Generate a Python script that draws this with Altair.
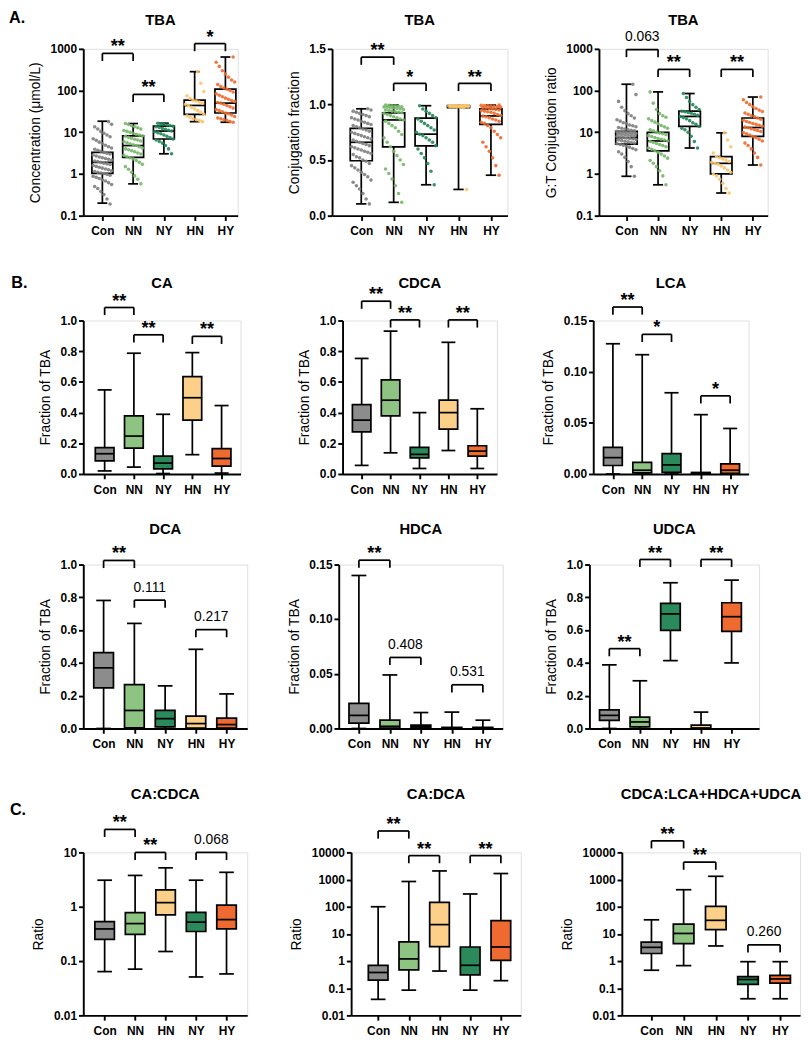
import altair as alt
import pandas as pd

FONT = "Liberation Sans"

GROUPS_AB = ["Con", "NN", "NY", "HN", "HY"]
GROUPS_C = ["Con", "NN", "HN", "NY", "HY"]
COLOR_KEYS = ["Con", "NN", "NY", "HN", "HY"]
BOX_COLORS = ["#8c8c8c", "#8ec482", "#2a8a5c", "#fdd08a", "#ee6a30"]
POINT_COLORS = ["#7e7e7e", "#76b768", "#23875a", "#fcc469", "#ee6a2c"]

# ---- box statistics: [min, q1, median, q3, max] per group (panel order) ----
TBA_CONC_BOX = [[0.2, 1.04, 1.9, 3.3, 18.4], [0.58, 2.5, 4.8, 8.2, 16.2], [3.05, 6.9, 10.7, 14.0, 16.5],
                [18.0, 27.0, 44.0, 59.0, 284.0], [17.4, 29.0, 50.0, 108.0, 638.0]]
TBA_FRAC_BOX = [[0.106, 0.494, 0.66, 0.786, 0.961], [0.12, 0.619, 0.861, 0.925, 0.994], [0.278, 0.628, 0.733, 0.878, 0.989],
                [0.236, 0.972, 0.985, 0.989, 0.989], [0.364, 0.822, 0.897, 0.961, 0.994]]
TBA_GT_BOX = [[0.88, 5.2, 7.4, 10.5, 142.0], [0.55, 3.6, 6.2, 10.0, 93.0], [4.2, 13.8, 24.0, 32.0, 85.0],
              [0.35, 1.0, 1.8, 2.6, 9.7], [1.64, 8.0, 13.0, 22.0, 70.0]]
CA_BOX = [[0.02, 0.085, 0.132, 0.172, 0.548], [0.045, 0.168, 0.247, 0.379, 0.787], [0.003, 0.034, 0.071, 0.116, 0.389],
          [0.126, 0.351, 0.497, 0.635, 0.791], [0.006, 0.051, 0.101, 0.166, 0.446]]
CDCA_BOX = [[0.056, 0.274, 0.351, 0.452, 0.753], [0.138, 0.379, 0.481, 0.613, 0.931], [0.036, 0.105, 0.128, 0.174, 0.4],
            [0.153, 0.293, 0.4, 0.481, 0.858], [0.036, 0.117, 0.149, 0.184, 0.425]]
LCA_BOX = [[0.0, 0.0083, 0.016, 0.026, 0.1273], [0.0, 0.0012, 0.0037, 0.0113, 0.1166], [0.0, 0.0015, 0.0089, 0.02, 0.0794],
           [0.0, 0.0, 0.0005, 0.0015, 0.058], [0.0, 0.0006, 0.0037, 0.0098, 0.0445]]
DCA_BOX = [[0.0, 0.248, 0.37, 0.463, 0.781], [0.0, 0.004, 0.11, 0.267, 0.641], [0.0, 0.01, 0.06, 0.11, 0.26],
           [0.0, 0.003, 0.03, 0.075, 0.483], [0.0, 0.003, 0.024, 0.063, 0.211]]
HDCA_BOX = [[0.0, 0.005, 0.012, 0.023, 0.14], [0.0, 0.0003, 0.002, 0.0076, 0.049], [0.0, 0.0003, 0.0015, 0.003, 0.0146],
            [0.0, 0.0, 0.0003, 0.001, 0.015], [0.0, 0.0, 0.0003, 0.001, 0.0076]]
UDCA_BOX = [[0.0, 0.05, 0.08, 0.114, 0.388], [0.0, 0.01, 0.04, 0.07, 0.291], [0.414, 0.598, 0.699, 0.763, 0.889],
            [0.0, 0.0, 0.003, 0.02, 0.1], [0.4, 0.592, 0.682, 0.767, 0.905]]
CA_CDCA_BOX = [[0.064, 0.25, 0.39, 0.53, 3.08], [0.071, 0.31, 0.49, 0.78, 3.77], [0.15, 0.71, 1.19, 2.05, 5.2],
               [0.051, 0.35, 0.52, 0.79, 3.08], [0.058, 0.39, 0.58, 1.07, 4.3]]
CA_DCA_BOX = [[0.039, 0.2, 0.38, 0.7, 100.0], [0.085, 0.47, 1.2, 5.1, 850.0], [0.43, 3.4, 22.0, 146.0, 2080.0],
              [0.085, 0.31, 0.7, 3.3, 295.0], [0.19, 1.06, 3.3, 31.0, 1670.0]]
CDCA_SEC_BOX = [[0.46, 1.9, 3.2, 5.0, 33.0], [0.68, 4.4, 10.4, 23.0, 423.0], [3.6, 14.5, 31.6, 104.0, 1320.0],
                [0.041, 0.14, 0.21, 0.27, 0.95], [0.041, 0.155, 0.22, 0.3, 0.95]]

# ---- significance brackets: (group a, group b, bracket level, label) ----
TBA_CONC_SIG = [("Con", "NN", 780, "**"), ("NN", "NY", 81, "**"), ("HN", "HY", 1340, "*")]
TBA_FRAC_SIG = [("Con", "NN", 1.425, "**"), ("NN", "NY", 1.189, "*"), ("HN", "HY", 1.189, "**")]
TBA_GT_SIG = [("Con", "NN", 965, "0.063"), ("NN", "NY", 322, "**"), ("HN", "HY", 322, "**")]
CA_SIG = [("Con", "NN", 1.085, "**"), ("NN", "NY", 0.907, "**"), ("HN", "HY", 0.897, "**")]
CDCA_SIG = [("Con", "NN", 1.126, "**"), ("NN", "NY", 1.004, "**"), ("HN", "HY", 1.004, "**")]
LCA_SIG = [("Con", "NN", 0.1632, "**"), ("NN", "NY", 0.1365, "*"), ("HN", "HY", 0.0764, "*")]
DCA_SIG = [("Con", "NN", 1.025, "**"), ("NN", "NY", 0.783, "0.111"), ("HN", "HY", 0.603, "0.217")]
HDCA_SIG = [("Con", "NN", 0.154, "**"), ("NN", "NY", 0.065, "0.408"), ("HN", "HY", 0.04, "0.531")]
UDCA_SIG = [("Con", "NN", 0.487, "**"), ("NN", "NY", 1.031, "**"), ("HN", "HY", 1.031, "**")]
CA_CDCA_SIG = [("Con", "NN", 26.5, "**"), ("NN", "HN", 10, "**"), ("NY", "HY", 10, "0.068")]
CA_DCA_SIG = [("Con", "NN", 61400, "**"), ("NN", "HN", 7620, "**"), ("NY", "HY", 7620, "**")]
CDCA_SEC_SIG = [("Con", "NN", 26800, "**"), ("NN", "HN", 4370, "**"), ("NY", "HY", 3.98, "0.260")]

# ---- individual points for the TBA panels ----
TBA_CONC_PTS = {
    "Con": [0.19, 0.25, 0.32, 0.38, 0.45, 0.5, 0.56, 0.62, 0.68, 0.72, 0.78, 0.83, 0.88, 0.93, 0.98, 1.02,
            1.06, 1.1, 1.15, 1.2, 1.26, 1.32, 1.38, 1.45, 1.52, 1.6, 1.68, 1.75, 1.82, 1.9,
            1.98, 2.05, 2.15, 2.25, 2.35, 2.45, 2.55, 2.7, 2.85, 3.0, 3.15, 3.3,
            3.5, 3.7, 3.9, 4.2, 4.5, 4.9, 5.3, 5.8, 6.4, 7.0, 7.8, 8.6, 9.5, 10.5, 12, 13.5, 15.5, 18],
    "NN": [0.58, 0.75, 0.9, 1.1, 1.3, 1.5, 1.7, 1.9, 2.1, 2.3, 2.45,
           2.6, 2.8, 3.0, 3.2, 3.4, 3.6, 3.8, 4.0, 4.2, 4.5, 4.8,
           5.0, 5.3, 5.6, 5.9, 6.2, 6.5, 6.8, 7.2, 7.6, 8.0, 8.2,
           8.6, 9.0, 9.5, 10, 10.5, 11, 12, 12.8, 13.5, 14.5, 15.3, 16.2],
    "NY": [3.05, 4.0, 4.8, 5.5, 6.0, 6.5, 6.9, 7.5, 8.0, 8.6, 9.2, 9.8, 10.3, 10.7, 11.2, 11.8, 12.4, 13.0,
           13.6, 14.0, 14.6, 15.0, 15.6, 16.0, 16.5],
    "HN": [18, 19, 20, 21, 23, 25, 27, 30, 33, 36, 40, 44, 47, 50, 53, 56, 59, 65, 75, 95, 150, 284],
    "HY": [17.4, 18, 19, 20, 21, 22, 24, 26, 28, 29, 31, 33, 35, 38, 41, 44, 47, 50, 52, 55, 58, 62, 66, 71,
           77, 84, 92, 100, 108, 115, 125, 140, 160, 180, 210, 250, 300, 380, 480, 638],
}
TBA_FRAC_PTS = {
    "Con": [0.106, 0.15, 0.2, 0.24, 0.27, 0.3, 0.32, 0.35, 0.37, 0.39, 0.41, 0.43, 0.45, 0.47, 0.49,
            0.5, 0.52, 0.53, 0.55, 0.56, 0.57, 0.58, 0.59, 0.6, 0.61, 0.62, 0.63, 0.64, 0.65, 0.66,
            0.67, 0.68, 0.69, 0.7, 0.71, 0.72, 0.73, 0.74, 0.75, 0.76, 0.77, 0.78, 0.79,
            0.8, 0.81, 0.82, 0.83, 0.84, 0.85, 0.86, 0.87, 0.88, 0.89, 0.9, 0.91, 0.92, 0.93, 0.94, 0.95, 0.961],
    "NN": [0.12, 0.2, 0.27, 0.33, 0.38, 0.42, 0.46, 0.5, 0.54, 0.58, 0.62,
           0.66, 0.7, 0.73, 0.76, 0.79, 0.81, 0.83, 0.85, 0.86,
           0.87, 0.88, 0.89, 0.9, 0.91, 0.92, 0.925,
           0.93, 0.935, 0.94, 0.945, 0.95, 0.955, 0.96, 0.965, 0.97, 0.972, 0.975, 0.978, 0.98, 0.983,
           0.986, 0.989, 0.992, 0.994],
    "NY": [0.278, 0.4, 0.47, 0.52, 0.56, 0.6, 0.63, 0.66, 0.68, 0.7, 0.72, 0.733, 0.75, 0.77, 0.79, 0.81,
           0.83, 0.85, 0.87, 0.88, 0.9, 0.92, 0.94, 0.96, 0.989],
    "HN": [0.236, 0.972, 0.975, 0.977, 0.979, 0.98, 0.981, 0.982, 0.983, 0.984, 0.985, 0.985, 0.986, 0.986,
           0.987, 0.987, 0.988, 0.988, 0.988, 0.989, 0.989, 0.989],
    "HY": [0.364, 0.45, 0.52, 0.58, 0.62, 0.66, 0.7, 0.73, 0.76, 0.79, 0.81,
           0.83, 0.84, 0.85, 0.86, 0.87, 0.88, 0.89, 0.895, 0.9,
           0.91, 0.92, 0.93, 0.935, 0.94, 0.945, 0.95, 0.955, 0.96,
           0.965, 0.97, 0.973, 0.976, 0.979, 0.982, 0.985, 0.988, 0.99, 0.992, 0.994],
}
TBA_GT_PTS = {
    "Con": [0.88, 1.5, 2.0, 2.5, 3.0, 3.4, 3.8, 4.1, 4.4, 4.7, 4.9, 5.1, 5.3, 5.5, 5.7,
            5.9, 6.1, 6.3, 6.5, 6.7, 6.9, 7.1, 7.3, 7.5, 7.7, 7.9, 8.1, 8.3, 8.5, 8.7,
            8.9, 9.1, 9.3, 9.5, 9.7, 9.9, 10.1, 10.3, 10.5, 10.8, 11.1, 11.5, 12, 12.5, 13,
            13.6, 14.3, 15, 16, 17, 18.5, 20, 22, 25, 28, 33, 40, 55, 80, 142],
    "NN": [0.55, 0.9, 1.2, 1.5, 1.8, 2.1, 2.4, 2.7, 3.0, 3.3, 3.6,
           3.9, 4.2, 4.5, 4.8, 5.1, 5.4, 5.7, 6.0, 6.2, 6.5, 6.8, 7.1, 7.5, 7.9, 8.3, 8.7, 9.2, 9.6, 10,
           10.8, 11.5, 12.5, 13.5, 14.5, 16, 17.5, 19, 21, 23, 25, 28, 35, 50, 93],
    "NY": [4.2, 6, 8, 10, 11.5, 12.5, 13.8, 15.5, 17, 19, 21, 22.5, 24, 25.5, 27, 28.5, 30, 31, 32, 35, 40,
           46, 55, 68, 85],
    "HN": [0.35, 0.45, 0.6, 0.75, 0.9, 1.0, 1.1, 1.25, 1.4, 1.55, 1.7, 1.8, 1.9, 2.0, 2.15, 2.3, 2.45, 2.6,
           3.2, 4.5, 6.5, 9.7],
    "HY": [1.64, 2.5, 3.2, 4.0, 4.8, 5.5, 6.2, 6.8, 7.4, 8.0,
           8.6, 9.2, 9.8, 10.4, 11, 11.6, 12.2, 12.8, 13.4, 14, 14.7, 15.5, 16.3, 17.2, 18.2, 19.3, 20.5, 22,
           23.5, 25, 27, 29, 31.5, 34, 37, 41, 46, 52, 60, 70],
}

# ---------------------------------------------------------------------------
AXIS_COMMON = dict(grid=False, domainColor="black", domainWidth=2, tickColor="black", tickWidth=2,
                   tickSize=5, labelColor="black", labelFont=FONT, labelFontSize=12.5,
                   labelFontWeight="bold", labelOverlap=False, labelFlush=False,
                   titleFont=FONT, titleFontSize=14.5, titleFontWeight="normal", titleColor="black")

LINE = dict(color="black", strokeWidth=1.8)


def make_panel(title, ytitle, groups, box, sig, ylog, ydomain, yticks, yfmt,
               width, height, xdomain, title_gap, points=None, row_label=None):
    n = len(groups)
    gi = {g: i for i, g in enumerate(groups)}
    box_half = 0.34 if points else 0.32
    cap_half = 0.16 if points else 0.24

    box_df = pd.DataFrame({
        "group": groups, "xi": list(range(n)),
        "mn": [b[0] for b in box], "q1": [b[1] for b in box], "md": [b[2] for b in box],
        "q3": [b[3] for b in box], "mx": [b[4] for b in box],
    })
    sig_df = pd.DataFrame({
        "x1": [gi[s[0]] for s in sig], "x2": [gi[s[1]] for s in sig],
        "by": [s[2] for s in sig], "label": [s[3] for s in sig],
        "star": [s[3].startswith("*") for s in sig],
    })

    xs = alt.Scale(domain=xdomain, nice=False, zero=False)
    if ylog:
        ys = alt.Scale(type="log", domain=ydomain, nice=False)
    else:
        ys = alt.Scale(domain=ydomain, nice=False, zero=False)
    label_expr = "[" + ",".join("'%s'" % g for g in groups) + "][round(datum.value)]"
    xax = alt.Axis(values=list(range(n)), labelExpr=label_expr, title=None, labelPadding=5,
                   labelAngle=0, **AXIS_COMMON)
    yax = alt.Axis(values=yticks, format=yfmt, title=ytitle, labelPadding=2, titlePadding=8,
                   **AXIS_COMMON)

    def X(f):
        return alt.X(f, type="quantitative", scale=xs, axis=xax)

    def Y(f):
        return alt.Y(f, type="quantitative", scale=ys, axis=yax)

    base = alt.Chart(box_df).transform_calculate(
        xl="datum.xi - %g" % box_half, xr="datum.xi + %g" % box_half,
        cl="datum.xi - %g" % cap_half, cr="datum.xi + %g" % cap_half)

    layers = []
    if points:
        box_layer = base.mark_rect(stroke="black", strokeWidth=1.8, fill="white", fillOpacity=0).encode(
            x=X("xl"), x2="xr", y=Y("q1"), y2="q3")
    else:
        box_layer = base.mark_rect(stroke="black", strokeWidth=1.8).encode(
            x=X("xl"), x2="xr", y=Y("q1"), y2="q3",
            fill=alt.Fill("group:N", scale=alt.Scale(domain=COLOR_KEYS, range=BOX_COLORS), legend=None))
    layers += [
        base.mark_rule(**LINE).encode(x=X("xi"), y=Y("mn"), y2="q1"),
        base.mark_rule(**LINE).encode(x=X("xi"), y=Y("q3"), y2="mx"),
        base.mark_rule(**LINE).encode(x=X("cl"), x2="cr", y=Y("mn")),
        base.mark_rule(**LINE).encode(x=X("cl"), x2="cr", y=Y("mx")),
        box_layer,
        base.mark_rule(**LINE).encode(x=X("xl"), x2="xr", y=Y("md")),
    ]

    if points:
        rows = []
        for g in groups:
            for v in points[g]:
                rows.append({"group": g, "xi": gi[g], "value": v})
        pts = alt.Chart(pd.DataFrame(rows)).transform_window(
            rn="row_number()", groupby=["group"]
        ).transform_calculate(
            jx="datum.xi + ((((datum.rn * 37) % 13) - 6) / 6) * 0.3"
        ).mark_circle(size=14, opacity=0.9).encode(
            x=X("jx:Q"), y=Y("value"),
            color=alt.Color("group:N", scale=alt.Scale(domain=COLOR_KEYS, range=POINT_COLORS), legend=None))
        layers.append(pts)

    sbase = alt.Chart(sig_df).transform_calculate(xm="(datum.x1 + datum.x2) / 2")
    layers += [
        sbase.mark_rule(**LINE).encode(x=X("x1"), x2="x2", y=Y("by")),
        sbase.mark_rule(y2Offset=8, **LINE).encode(x=X("x1"), y=Y("by"), y2="by"),
        sbase.mark_rule(y2Offset=8, **LINE).encode(x=X("x2"), y=Y("by"), y2="by"),
        sbase.transform_filter("datum.star").mark_text(
            font=FONT, fontSize=19, fontWeight="bold", baseline="alphabetic", dy=-1, color="black"
        ).encode(x=X("xm:Q"), y=Y("by"), text="label:N"),
        sbase.transform_filter("!datum.star").mark_text(
            font=FONT, fontSize=14.5, baseline="alphabetic", dy=-9, color="black"
        ).encode(x=X("xm:Q"), y=Y("by"), text="label:N"),
    ]

    # panel title, placed above the plot area
    layers.append(
        alt.Chart(pd.DataFrame({"t": [title]})).mark_text(
            font=FONT, fontSize=15.5, fontWeight="bold", color="black", align="center", baseline="alphabetic"
        ).encode(x=alt.value(width / 2), y=alt.value(-title_gap), text="t:N")
    )
    # section letter (A., B., C.) left of the first panel in a row
    if row_label is not None:
        text, lx, ly = row_label
        layers.append(
            alt.Chart(pd.DataFrame({"t": [text]})).mark_text(
                font=FONT, fontSize=17, fontWeight="bold", color="black", align="left", baseline="alphabetic"
            ).encode(x=alt.value(lx), y=alt.value(ly), text="t:N")
        )

    return alt.layer(*layers).properties(width=width, height=height)


LOG4 = [0.1, 1, 10, 100, 1000]
LOG6 = [0.01, 0.1, 1, 10, 100, 1000, 10000]
FRAC1 = [0, 0.2, 0.4, 0.6, 0.8, 1.0]
FRAC15 = [0, 0.05, 0.1, 0.15]

HA, HB1, HB2, HC = 175, 161, 172, 171
DA, DB1, DB2, DC = 25.4, 34.5, 32, 56

pA1 = make_panel("TBA", "Concentration (μmol/L)", GROUPS_AB, TBA_CONC_BOX, TBA_CONC_SIG, True, [0.1, 1000], LOG4, "~g",
                 162, HA, [-0.62, 4.4], DA, points=TBA_CONC_PTS, row_label=("A.", -78, -27.3))
pA2 = make_panel("TBA", "Conjugation fraction", GROUPS_AB, TBA_FRAC_BOX, TBA_FRAC_SIG, False, [0, 1.5], [0, 0.5, 1.0, 1.5], ".1f",
                 184, HA, [-0.9, 4.51], DA, points=TBA_FRAC_PTS)
pA3 = make_panel("TBA", "G:T Conjugation ratio", GROUPS_AB, TBA_GT_BOX, TBA_GT_SIG, True, [0.1, 1000], LOG4, "~g",
                 177, HA, [-0.87, 4.47], DA, points=TBA_GT_PTS)

pCA = make_panel("CA", "Fraction of TBA", GROUPS_AB, CA_BOX, CA_SIG, False, [0, 1.0], FRAC1, ".1f",
                 165, HB1, [-0.73, 4.65], DB1, row_label=("B.", -75.5, -34))
pCDCA = make_panel("CDCA", "Fraction of TBA", GROUPS_AB, CDCA_BOX, CDCA_SIG, False, [0, 1.0], FRAC1, ".1f",
                   162, HB1, [-0.66, 4.68], DB1)
pLCA = make_panel("LCA", "Fraction of TBA", GROUPS_AB, LCA_BOX, LCA_SIG, False, [0, 0.15], FRAC15, ".2f",
                  163, HB1, [-0.67, 4.63], DB1)

pDCA = make_panel("DCA", "Fraction of TBA", GROUPS_AB, DCA_BOX, DCA_SIG, False, [0, 1.0], FRAC1, ".1f",
                  172, HB2, [-0.66, 4.67], DB2, row_label=(" ", -78, 0))
pHDCA = make_panel("HDCA", "Fraction of TBA", GROUPS_AB, HDCA_BOX, HDCA_SIG, False, [0, 0.15], FRAC15, ".2f",
                   172, HB2, [-0.65, 4.64], DB2)
pUDCA = make_panel("UDCA", "Fraction of TBA", GROUPS_AB, UDCA_BOX, UDCA_SIG, False, [0, 1.0], FRAC1, ".1f",
                   178, HB2, [-0.65, 4.9], DB2)

pC1 = make_panel("CA:CDCA", "Ratio", GROUPS_C, CA_CDCA_BOX, CA_CDCA_SIG, True, [0.01, 10], [0.01, 0.1, 1, 10], "~g",
                 172, HC, [-0.7, 4.68], DC, row_label=("C.", -77, -39))
pC2 = make_panel("CA:DCA", "Ratio", GROUPS_C, CA_DCA_BOX, CA_DCA_SIG, True, [0.01, 10000], LOG6, "~g",
                 178, HC, [-0.88, 4.65], DC)
pC3 = make_panel("CDCA:LCA+HDCA+UDCA", "Ratio", GROUPS_C, CDCA_SEC_BOX, CDCA_SEC_SIG, True, [0.01, 10000], LOG6, "~g",
                 187, HC, [-0.92, 4.62], DC)

rowA = alt.hconcat(alt.hconcat(pA1, pA2, spacing=50), pA3, spacing=36)
rowB1 = alt.hconcat(alt.hconcat(pCA, pCDCA, spacing=58), pLCA, spacing=45)
rowB2 = alt.hconcat(alt.hconcat(pDCA, pHDCA, spacing=40), pUDCA, spacing=42)
groupB = alt.vconcat(rowB1, rowB2, spacing=27)
rowC = alt.hconcat(alt.hconcat(pC1, pC2, spacing=42), pC3, spacing=39)

chart = alt.vconcat(alt.vconcat(rowA, groupB, spacing=38), rowC, spacing=38).properties(
    padding={"left": 0, "top": -25, "right": 0, "bottom": 0}
).configure_view(stroke=None).configure(background="white")

chart.save("out.html", embed_options={"renderer": "svg", "actions": False})
